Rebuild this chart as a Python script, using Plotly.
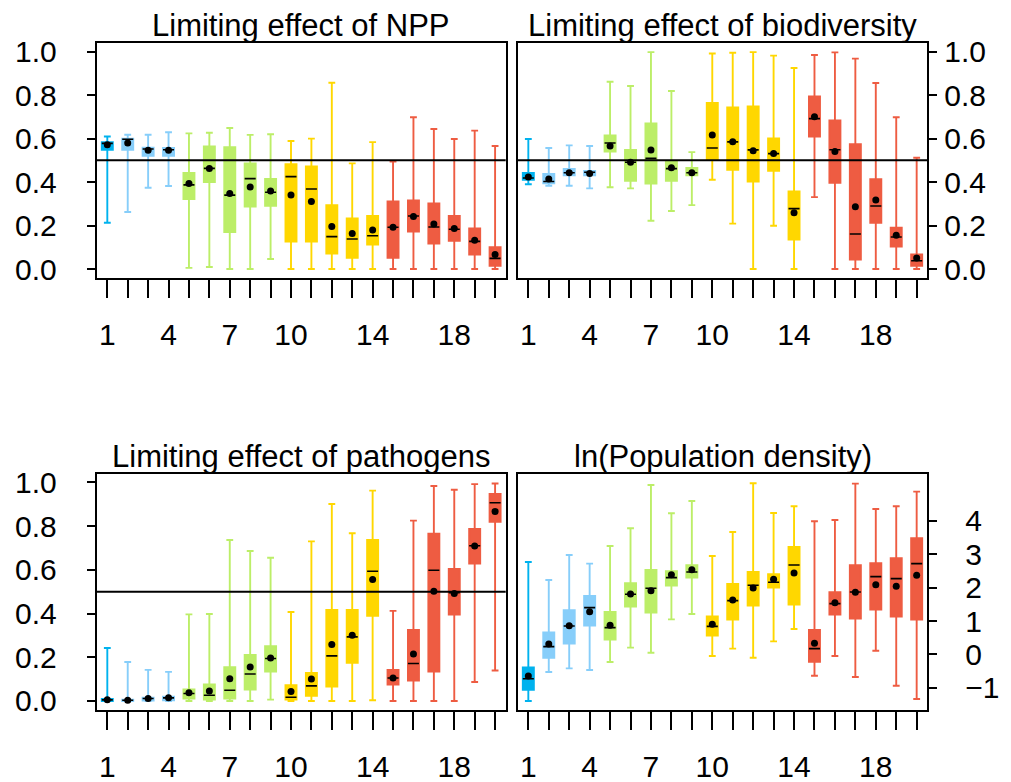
import plotly.graph_objects as go

cats = list(range(1, 21))
group_colours = ["#00B2EE"] + ["#87CEFA"] * 3 + ["#BCEE68"] * 5 + ["#FFD700"] * 5 + ["#EE5C42"] * 6

titles = ["Limiting effect of NPP", "Limiting effect of biodiversity",
          "Limiting effect of pathogens", "ln(Population density)"]

# ---- Limiting effect of NPP ----
npp_lo = [0.213, 0.262, 0.374, 0.382, 0.005, 0.009, 0.0, 0.0, 0.046, 0.0,
          0.0, 0.0, 0.0, 0.0, 0.0, 0.0, 0.0, 0.0, 0.0, 0.0]
npp_q1 = [0.549, 0.549, 0.521, 0.521, 0.322, 0.400, 0.170, 0.287, 0.291, 0.126,
          0.126, 0.071, 0.052, 0.112, 0.052, 0.172, 0.117, 0.130, 0.066, 0.015]
npp_med = [0.578, 0.597, 0.552, 0.549, 0.387, 0.463, 0.340, 0.416, 0.353, 0.425,
           0.368, 0.149, 0.138, 0.153, 0.192, 0.244, 0.193, 0.183, 0.127, 0.049]
npp_q3 = [0.583, 0.600, 0.558, 0.557, 0.442, 0.564, 0.560, 0.486, 0.414, 0.482,
          0.472, 0.294, 0.233, 0.244, 0.311, 0.316, 0.302, 0.244, 0.187, 0.100]
npp_hi = [0.610, 0.618, 0.618, 0.629, 0.624, 0.627, 0.649, 0.617, 0.620, 0.589,
          0.600, 0.857, 0.486, 0.584, 0.494, 0.698, 0.644, 0.598, 0.637, 0.566]
npp_mean = [0.572, 0.580, 0.546, 0.546, 0.394, 0.463, 0.348, 0.377, 0.359, 0.340,
            0.311, 0.196, 0.163, 0.179, 0.192, 0.242, 0.207, 0.186, 0.132, 0.067]

# ---- Limiting effect of biodiversity ----
bio_lo = [0.390, 0.383, 0.383, 0.371, 0.376, 0.371, 0.222, 0.267, 0.294, 0.411,
          0.209, 0.0, 0.199, 0.0, 0.331, 0.0, 0.0, 0.0, 0.0, 0.0]
bio_q1 = [0.411, 0.394, 0.431, 0.431, 0.540, 0.406, 0.393, 0.406, 0.431, 0.505,
          0.457, 0.402, 0.452, 0.135, 0.609, 0.397, 0.043, 0.213, 0.103, 0.015]
bio_med = [0.419, 0.403, 0.443, 0.445, 0.580, 0.491, 0.509, 0.462, 0.443, 0.557,
           0.585, 0.548, 0.531, 0.278, 0.692, 0.549, 0.161, 0.290, 0.147, 0.038]
bio_q3 = [0.442, 0.437, 0.460, 0.451, 0.615, 0.548, 0.670, 0.497, 0.465, 0.764,
          0.744, 0.748, 0.601, 0.357, 0.794, 0.684, 0.574, 0.413, 0.190, 0.067]
bio_hi = [0.598, 0.557, 0.569, 0.566, 0.862, 0.842, 0.998, 0.819, 0.538, 0.992,
          0.995, 0.998, 0.982, 0.925, 0.985, 0.997, 0.968, 0.856, 0.698, 0.512]
bio_mean = [0.423, 0.414, 0.443, 0.439, 0.566, 0.491, 0.548, 0.466, 0.443, 0.617,
            0.586, 0.544, 0.532, 0.259, 0.701, 0.541, 0.287, 0.317, 0.155, 0.051]

# ---- Limiting effect of pathogens ----
pat_lo = [0.0, 0.0, 0.0, 0.0, 0.0, 0.0, 0.0, 0.0, 0.006, 0.0,
          0.0, 0.0, 0.0, 0.003, 0.0, 0.0, 0.0, 0.0, 0.087, 0.139]
pat_q1 = [0.0, 0.0, 0.002, 0.003, 0.011, 0.006, 0.011, 0.052, 0.134, 0.006,
          0.024, 0.066, 0.175, 0.390, 0.075, 0.093, 0.134, 0.395, 0.628, 0.820]
pat_med = [0.005, 0.003, 0.011, 0.014, 0.034, 0.026, 0.049, 0.123, 0.194, 0.017,
           0.069, 0.206, 0.293, 0.593, 0.105, 0.171, 0.598, 0.495, 0.710, 0.907]
pat_q3 = [0.009, 0.006, 0.015, 0.020, 0.053, 0.076, 0.154, 0.210, 0.250, 0.072,
          0.128, 0.416, 0.416, 0.736, 0.142, 0.325, 0.765, 0.604, 0.787, 0.947]
pat_hi = [0.242, 0.178, 0.142, 0.133, 0.396, 0.398, 0.736, 0.686, 0.655, 0.407,
          0.730, 0.901, 0.767, 0.962, 0.412, 0.825, 0.983, 0.966, 0.992, 0.995]
pat_mean = [0.005, 0.003, 0.011, 0.015, 0.037, 0.046, 0.102, 0.155, 0.197, 0.043,
            0.101, 0.258, 0.300, 0.556, 0.105, 0.215, 0.502, 0.492, 0.709, 0.867]

# ---- ln(Population density) ----
pop_lo = [-1.40, -0.53, -0.42, -0.47, -0.23, 0.20, 0.05, 1.05, 1.21, -0.05,
          0.17, -0.10, 0.39, 0.76, -0.64, -0.05, -0.68, 0.11, -0.94, -1.34]
pop_q1 = [-1.06, -0.10, 0.32, 0.86, 0.44, 1.43, 1.25, 2.06, 2.30, 0.56,
          1.04, 1.46, 2.00, 1.49, -0.22, 1.19, 1.07, 1.34, 1.13, 1.04]
pop_med = [-0.73, 0.23, 0.85, 1.40, 0.80, 1.80, 1.98, 2.30, 2.47, 0.84,
           1.61, 2.07, 2.16, 2.68, 0.17, 1.52, 1.87, 2.33, 2.27, 2.72]
pop_q3 = [-0.39, 0.66, 1.32, 1.75, 1.27, 2.13, 2.53, 2.49, 2.67, 1.14,
          2.11, 2.47, 2.40, 3.22, 0.73, 1.86, 2.67, 2.73, 2.88, 3.48]
pop_hi = [2.77, 2.23, 2.98, 2.72, 3.25, 3.78, 5.08, 4.23, 4.60, 2.95,
          3.67, 5.13, 4.24, 4.44, 3.99, 4.03, 5.12, 4.36, 4.44, 4.88]
pop_mean = [-0.65, 0.31, 0.86, 1.28, 0.87, 1.81, 1.91, 2.39, 2.54, 0.90,
            1.63, 1.99, 2.25, 2.44, 0.33, 1.55, 1.86, 2.09, 2.04, 2.37]

x_tick_labels = ["1", "", "", "4", "", "", "7", "", "", "10",
                 "", "", "", "14", "", "", "", "18", "", ""]
unit_ticks = [0.0, 0.2, 0.4, 0.6, 0.8, 1.0]
unit_tick_text = ["0.0", "0.2", "0.4", "0.6", "0.8", "1.0"]
pop_ticks = [-1, 0, 1, 2, 3, 4]
pop_tick_text = ["\u22121", "0", "1", "2", "3", "4"]

panels = [
    (npp_lo, npp_q1, npp_med, npp_q3, npp_hi, npp_mean),
    (bio_lo, bio_q1, bio_med, bio_q3, bio_hi, bio_mean),
    (pat_lo, pat_q1, pat_med, pat_q3, pat_hi, pat_mean),
    (pop_lo, pop_q1, pop_med, pop_q3, pop_hi, pop_mean),
]

BOX_W = 0.54
W, H = 1011, 782
x_dom = [[96.7 / W, 505.7 / W], [517.7 / W, 927.3 / W]]
y_dom_top = [(H - 277.7) / H, (H - 43.0) / H]
y_dom_bot = [(H - 709.7) / H, (H - 473.6) / H]
domains = [(x_dom[0], y_dom_top), (x_dom[1], y_dom_top),
           (x_dom[0], y_dom_bot), (x_dom[1], y_dom_bot)]
y_standoff = [24, 1, 24, 22]

fig = go.Figure()
for k, (lo, q1, med, q3, hi, mean) in enumerate(panels):
    ax = "" if k == 0 else str(k + 1)
    xa, ya = "x" + ax, "y" + ax
    for i, c in enumerate(cats):
        col = group_colours[i]
        fig.add_trace(go.Box(
            x=[c], q1=[q1[i]], median=[med[i]], q3=[q3[i]],
            lowerfence=[lo[i]], upperfence=[hi[i]],
            width=BOX_W, whiskerwidth=0.62,
            line=dict(color=col, width=1.9), fillcolor=col,
            xaxis=xa, yaxis=ya, hoverinfo="skip", showlegend=False))
    mx, my = [], []
    for i, c in enumerate(cats):
        mx += [c - BOX_W / 2, c + BOX_W / 2, None]
        my += [med[i], med[i], None]
    fig.add_trace(go.Scatter(x=mx, y=my, mode="lines",
                             line=dict(color="black", width=1.6),
                             xaxis=xa, yaxis=ya, hoverinfo="skip", showlegend=False))
    fig.add_trace(go.Scatter(x=cats, y=mean, mode="markers",
                             marker=dict(color="black", size=7),
                             xaxis=xa, yaxis=ya, hoverinfo="skip", showlegend=False))

    xd, yd = domains[k]
    xaxis = dict(domain=xd, anchor=ya, range=[0.48, 20.52], tickmode="array",
                 tickvals=cats, ticktext=x_tick_labels, ticks="outside", ticklen=18,
                 tickwidth=2, tickcolor="black", showline=True, mirror=True,
                 linecolor="black", linewidth=2, showgrid=False, zeroline=False,
                 ticklabelstandoff=11, automargin=False)
    if k < 3:
        yr, tv, tt = [-0.04, 1.04], unit_ticks, unit_tick_text
    else:
        yr, tv, tt = [-1.66, 5.42], pop_ticks, pop_tick_text
    yaxis = dict(domain=yd, anchor=xa, range=yr, tickmode="array", tickvals=tv,
                 ticktext=tt, ticks="outside", ticklen=8, tickwidth=2,
                 tickcolor="black", showline=True, mirror=True, linecolor="black",
                 linewidth=2, showgrid=False, zeroline=False, automargin=False,
                 side="left" if k in (0, 2) else "right",
                 ticklabelstandoff=y_standoff[k])
    fig.update_layout({"xaxis" + ax: xaxis, "yaxis" + ax: yaxis})

    if k < 3:
        fig.add_shape(type="line", xref=xa + " domain", yref=ya, x0=0, x1=1,
                      y0=0.5, y1=0.5, line=dict(color="black", width=2))
    fig.add_annotation(text=titles[k], xref=xa + " domain", yref=ya + " domain",
                       x=0.5, y=1, xanchor="center", yanchor="bottom", yshift=-2,
                       showarrow=False, font=dict(size=31, color="black"))

fig.update_layout(width=W, height=H, margin=dict(l=0, r=0, t=0, b=0, autoexpand=False),
                  plot_bgcolor="white", paper_bgcolor="white", boxmode="overlay",
                  font=dict(family="Liberation Sans, Arial, sans-serif", size=30,
                            color="black"))
fig.write_html("out.html", config={"displayModeBar": False},
               post_script="document.body.style.margin='0';document.body.style.overflow='hidden';")
